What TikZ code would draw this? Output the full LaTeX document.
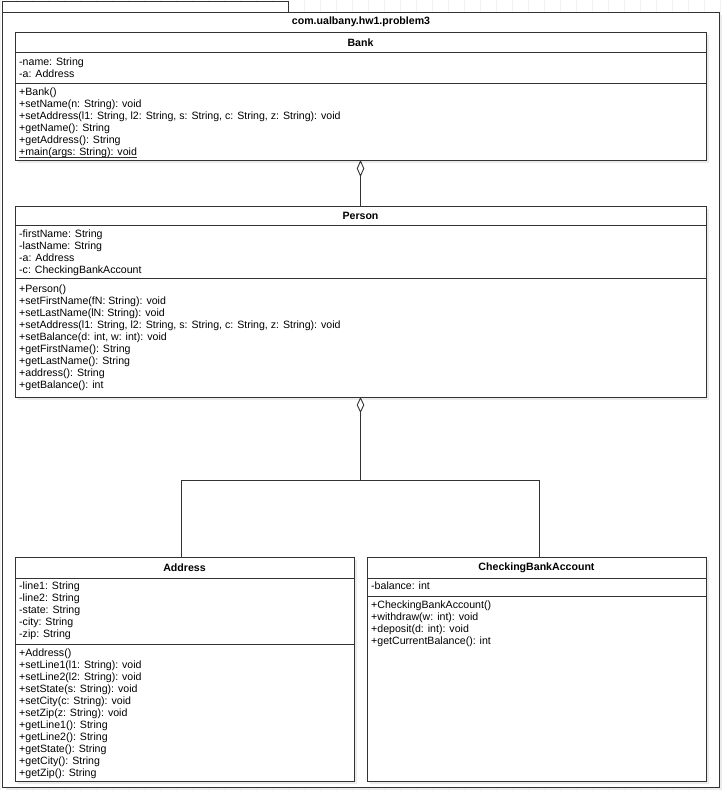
\documentclass[tikz,border=0pt]{standalone}
\usepackage{fontspec}
\setmainfont{Liberation Sans}
\usetikzlibrary{arrows.meta,calc}
\definecolor{ln}{HTML}{333333}
\definecolor{shd}{HTML}{EBEBEB}
\definecolor{grd}{HTML}{F2F2F2}
\begin{document}
\begin{tikzpicture}[x=1pt,y=-1pt,
  box/.style={draw=ln, fill=white, line width=0.9pt, inner sep=0pt, outer sep=0pt},
  divider/.style={draw=ln, line width=0.9pt},
  shadowbox/.style={fill=shd, draw=none},
  mem/.style={anchor=west, inner sep=0pt, yshift=-1.8pt, font=\fontsize{10.6}{12}\selectfont, text height=8pt, text depth=2pt},
  hdr/.style={inner sep=0pt, yshift=-0.8pt, font=\bfseries\fontsize{10.6}{12}\selectfont},
  conn/.style={draw=ln, line width=0.9pt}]
\useasboundingbox (0,0) rectangle (723,791);
\fill[white] (0,0) rectangle (723,791);
\draw[grd, line width=0.5pt, step=16] (0,0) grid (723,791);

% package
\fill[shd] (5.5,15) rectangle (722,790);
\node[box, minimum width=716.5pt, minimum height=775pt] (pkg) at (360.75,399.5) {};
\node[box, minimum width=285.5pt, minimum height=11pt] (tab) at (145.25,6.5) {};
\node[hdr] (pkgtitle) at (361,21) {com.ualbany.hw1.problem3};

% Bank
\fill[shd] (18,35) rectangle (709,163);
\node[box, minimum width=691pt, minimum height=128pt] (bank) at (360.5,96) {};
\draw[divider] (15,52) -- (706,52);
\draw[divider] (15,83) -- (706,83);
\node[hdr] (banktitle) at (360.5,42) {Bank};
\foreach \t [count=\i] in {-name: String, -a: Address}
  \node[mem] (bank-a\i) at (19,{61+12*(\i-1)}) {\t};
\foreach \t [count=\i] in {+Bank(), +setName(n: String): void, {+setAddress(l1: String, l2: String, s: String, c: String, z: String): void}, +getName(): String, +getAddress(): String, +main(args: String): void}
  \node[mem] (bank-m\i) at (19,{91+12*(\i-1)}) {\t};
\draw[ln, line width=0.7pt] ([yshift=-1.6pt]bank-m6.base west) -- ([yshift=-1.6pt]bank-m6.base east);

% Person
\fill[shd] (18,209) rectangle (709,400);
\node[box, minimum width=691pt, minimum height=191pt] (person) at (360.5,301.5) {};
\draw[divider] (15,225) -- (706,225);
\draw[divider] (15,278) -- (706,278);
\node[hdr] (persontitle) at (360.5,215) {Person};
\foreach \t [count=\i] in {-firstName: String, -lastName: String, -a: Address, -c: CheckingBankAccount}
  \node[mem] (person-a\i) at (19,{233+12*(\i-1)}) {\t};
\foreach \t [count=\i] in {+Person(), +setFirstName(fN: String): void, +setLastName(lN: String): void, {+setAddress(l1: String, l2: String, s: String, c: String, z: String): void}, {+setBalance(d: int, w: int): void}, +getFirstName(): String, +getLastName(): String, +address(): String, +getBalance(): int}
  \node[mem] (person-m\i) at (19,{288+12*(\i-1)}) {\t};

% Address
\fill[shd] (18,560) rectangle (357,784);
\node[box, minimum width=339pt, minimum height=224pt] (address) at (184.5,669) {};
\draw[divider] (15,578) -- (354,578);
\draw[divider] (15,644) -- (354,644);
\node[hdr] (addresstitle) at (184.5,567) {Address};
\foreach \t [count=\i] in {-line1: String, -line2: String, -state: String, -city: String, -zip: String}
  \node[mem] (address-a\i) at (19,{585+12*(\i-1)}) {\t};
\foreach \t [count=\i] in {+Address(), +setLine1(l1: String): void, +setLine2(l2: String): void, +setState(s: String): void, +setCity(c: String): void, +setZip(z: String): void, +getLine1(): String, +getLine2(): String, +getState(): String, +getCity(): String, +getZip(): String}
  \node[mem] (address-m\i) at (19,{652+12*(\i-1)}) {\t};

% CheckingBankAccount
\fill[shd] (370,560) rectangle (709,784);
\node[box, minimum width=339pt, minimum height=224pt] (cba) at (536.5,669) {};
\draw[divider] (367,578) -- (706,578);
\draw[divider] (367,596) -- (706,596);
\node[hdr] (cbatitle) at (536.5,567) {CheckingBankAccount};
\node[mem] (cba-a1) at (371,585) {-balance: int};
\foreach \t [count=\i] in {+CheckingBankAccount(), +withdraw(w: int): void, +deposit(d: int): void, +getCurrentBalance(): int}
  \node[mem] (cba-m\i) at (371,{604+12*(\i-1)}) {\t};

% connectors
\draw[conn, -{Diamond[open, length=17pt, width=7.5pt]}] (person.north) -- (bank.south);
\coordinate (j) at (360.5,480);
\draw[conn, {Diamond[open, length=16pt, width=7.5pt]}-] (person.south) -- (j) -| ([xshift=-3.5pt]address.north);
\draw[conn] (j) -| ([xshift=2.5pt]cba.north);
\end{tikzpicture}
\end{document}
